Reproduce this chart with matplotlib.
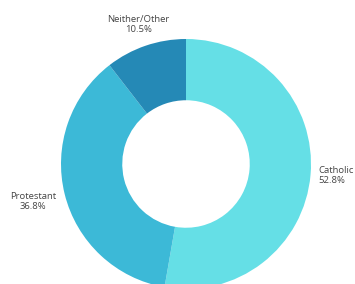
import numpy as np
import matplotlib
matplotlib.use('Agg')
import matplotlib.pyplot as plt

# Religion shares (%)
labels = ['Catholic', 'Protestant', 'Neither/Other']
values = [52.8, 36.8, 10.5]
colors = ['#65dfe6', '#3cb9d7', '#2589b6']

fig = plt.figure(figsize=(3.55, 2.84), dpi=100)
ax = fig.add_axes([0, 0, 1, 1])

ax.pie(values, colors=colors, startangle=90, counterclock=False,
       radius=1.0, wedgeprops=dict(width=0.49, edgecolor='none'))

# label placement: distance from centre and alignment per slice
label_dist = [1.06, 1.26, 1.18]
label_ha = ['left', 'center', 'center']
total = sum(values)
start = 90.0
for lab, val, d, ha in zip(labels, values, label_dist, label_ha):
    span = val / total * 360
    mid = np.deg2rad(start - span / 2)
    start -= span
    ax.text(d * np.cos(mid), d * np.sin(mid), f'{lab}\n{val:.1f}%',
            ha=ha, va='center', fontsize=6.8, color='#444444',
            family='Open Sans', linespacing=1.15)

ax.set_xlim(-186 / 125, (355 - 186) / 125)
ax.set_ylim(-120 / 125, 164 / 125)
ax.set_aspect('equal')
ax.axis('off')

fig.savefig('out.png', dpi=100)
